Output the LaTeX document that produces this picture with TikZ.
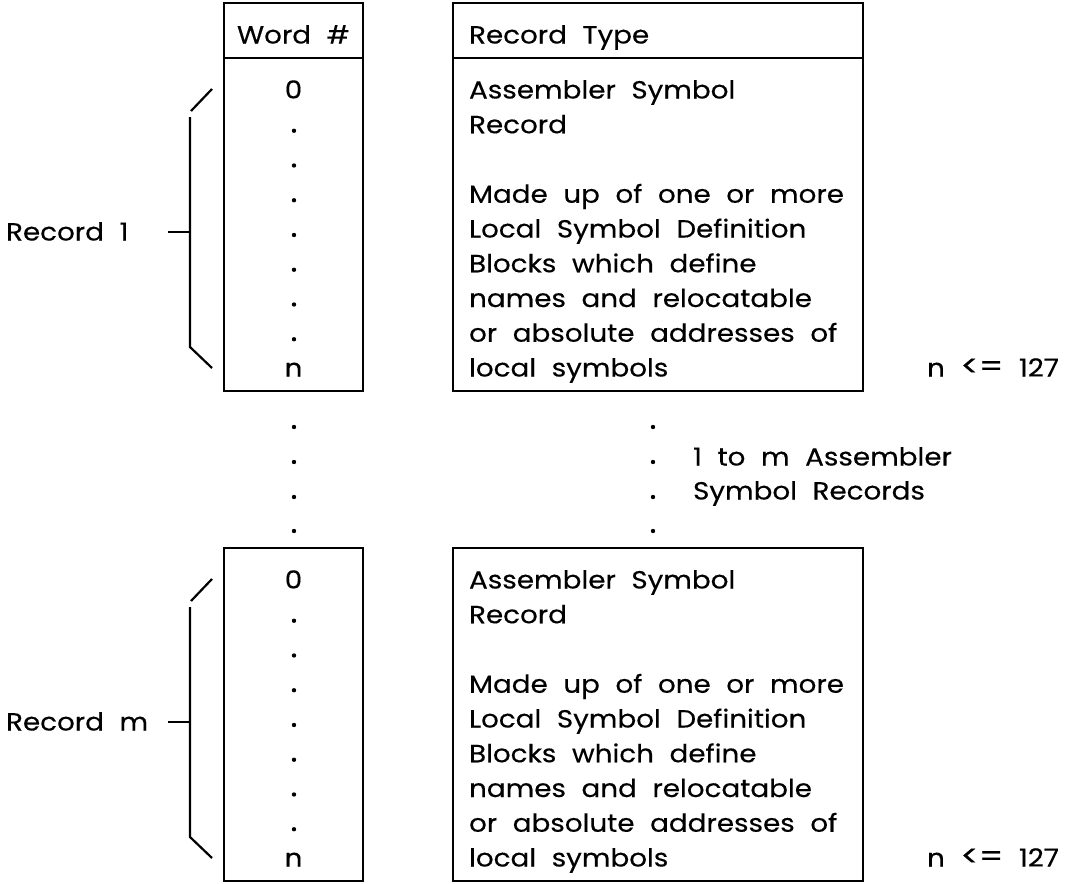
\documentclass[tikz,border=0pt]{standalone}
\usepackage{fontspec}
\setmainfont{Poppins}[FakeStretch=1.12, WordSpace=2.1, FakeBold=0.3]

\tikzset{
  celda/.style={anchor=base, inner sep=0pt, font=\fontsize{12.4}{14}\selectfont},
  texto/.style={anchor=base west, inner sep=0pt, font=\fontsize{12.4}{14}\selectfont},
  punto/.style={circle, fill, inner sep=0pt, minimum size=2.2pt},
}
\newcommand{\menorig}{{\fontsize{15}{14}\selectfont <=}}

\begin{document}
\begin{tikzpicture}[x=0.5pt, y=-0.5pt, line width=1.1pt]
\useasboundingbox (0,0) rectangle (1073,884);

% Cabeceras
\draw (224,3) rectangle (363,58);
\draw (453,3) rectangle (863,58);
\node[celda] (word) at (293.5,43.5) {Word \#};
\node[texto] (tipo) at (468,43.5) {Record Type};

% Registros 1 y m
\foreach \dy/\g in {0/1, 490/m} {
	\draw (224,{58+\dy}) rectangle (363,{391+\dy});
	\draw (453,{58+\dy}) rectangle (863,{391+\dy});

	\node[celda] (cero\g) at (293.5,{98.5+\dy}) {0};
	\foreach \k in {1, 2, ..., 7}
		\node[punto] (p\g\k) at (294,{96+34.75*\k+\dy}) {};
	\node[celda] (ene\g) at (293.5,{376.5+\dy}) {n};

	\foreach \i/\t in {0/Assembler Symbol, 1/Record, 3/Made up of one or more,
			4/Local Symbol Definition, 5/Blocks which define,
			6/names and relocatable, 7/or absolute addresses of, 8/local symbols}
		\node[texto] (lin\g\i) at (468,{98.5+34.75*\i+\dy}) {\t};

	\node[texto] (lim\g) at (926,{376.5+\dy}) {n \menorig\ 127};

	% llave
	\coordinate (sa\g) at (212,{89+\dy});
	\coordinate (sb\g) at (191,{111+\dy});
	\coordinate (va\g) at (190,{117+\dy});
	\coordinate (vb\g) at (190,{347+\dy});
	\coordinate (da\g) at (212,{368+\dy});
	\coordinate (tm\g) at (190,{232+\dy});
	\draw (sa\g) -- (sb\g);
	\draw (va\g) -- (vb\g) -- (da\g);
	\draw (tm\g) -- ++(-22,0);
	\node[texto] (reg\g) at (5,{240.5+\dy}) {Record \g};
}

% Puntos intermedios
\foreach \y in {427, 462, 497, 531} {
	\node[punto] (pl\y) at (294,\y) {};
	\node[punto] (pr\y) at (653,\y) {};
}
\node[texto] (nota1) at (692,465.5) {1 to m Assembler};
\node[texto] (nota2) at (692,499.5) {Symbol Records};
\end{tikzpicture}
\end{document}
